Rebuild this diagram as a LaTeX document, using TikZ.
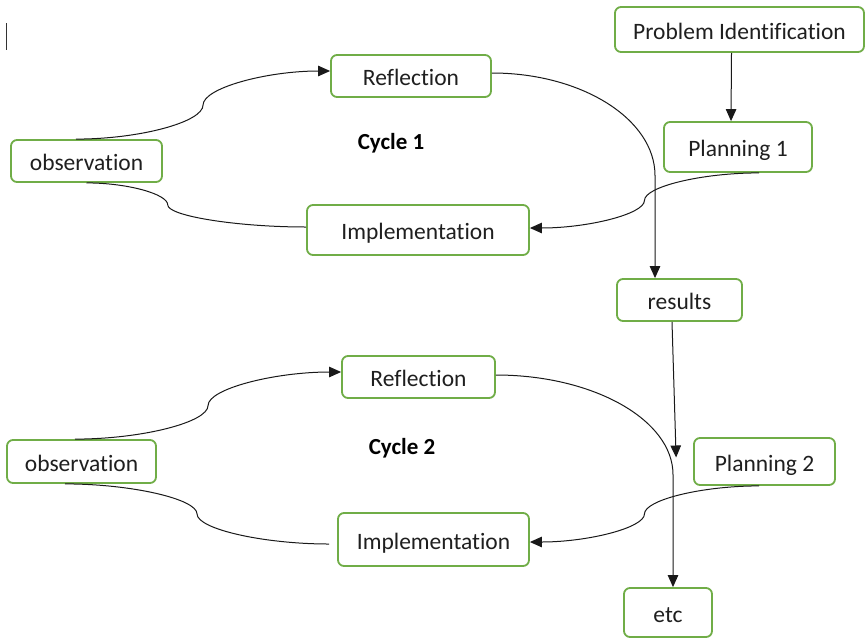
\documentclass[tikz,border=0pt]{standalone}
\usepackage{fontspec}
\setmainfont[Ligatures=NoCommon]{Carlito}
\usetikzlibrary{arrows.meta}
\usetikzlibrary{calc}
\definecolor{boxgreen}{HTML}{70AD47}

\begin{document}
\begin{tikzpicture}[x=1pt, y=-1pt,
stage/.style={draw=boxgreen, line width=1.8pt, rounded corners=6pt, fill=white,
text=black!88, font=\fontsize{23.5}{28}\selectfont, inner sep=2pt,
text height=19pt, text depth=0pt},
cycle/.style={text=black, font=\fontsize{23}{28}\selectfont\bfseries},
link/.style={line width=1pt, draw=black!90},
flow/.style={link, -{Triangle[length=12pt,width=10.5pt]}},
wordcurve/.style={to path={let \p1=(\tikztostart), \p2=(\tikztotarget) in
  .. controls ({(1-0.5*#1)*(\x1)+0.5*#1*(\x2)},\y1)
  and ({(1-#1)*(\x1)+#1*(\x2)},{0.75*(\y1)+0.25*(\y2)})
  .. ({(1-#1)*(\x1)+#1*(\x2)},{0.5*(\y1)+0.5*(\y2)})
  .. controls ({(1-#1)*(\x1)+#1*(\x2)},{0.25*(\y1)+0.75*(\y2)})
  and ({(0.5-0.5*#1)*(\x1)+(0.5+0.5*#1)*(\x2)},\y2)
  .. (\tikztotarget) \tikztonodes}},
wordcurve/.default=0.5,
wordbend/.style={to path={let \p1=(\tikztostart), \p2=(\tikztotarget) in
  .. controls ({0.45*(\x1)+0.55*(\x2)},\y1)
  and (\x2,{(1-0.45*#1)*(\y1)+0.45*#1*(\y2)})
  .. (\x2,{(1-#1)*(\y1)+#1*(\y2)}) -- (\tikztotarget) \tikztonodes}},
wordbend/.default=0.5]
    \useasboundingbox (0,0) rectangle (866,640);
    \draw[line width=0.8pt, black!80] (6,23) -- (6,50);

    \node[stage, minimum width=249pt, minimum height=45pt] (probid) at (739.5,29.5) {Problem Identification};
    \node[stage, minimum width=148pt, minimum height=50pt] (plan1) at (738,147) {Planning 1};
    \node[stage, minimum width=125pt, minimum height=42pt] (results) at (679.5,300) {results};
    \node[stage, minimum width=160pt, minimum height=42pt] (refl1) at (411,76) {Reflection};
    \node[stage, minimum width=151pt, minimum height=42pt] (obs1) at (86.5,161) {observation};
    \node[stage, minimum width=222pt, minimum height=50pt] (impl1) at (418,230) {Implementation};
    \node[cycle] (cyc1) at (391,143) {Cycle 1};

    \node[stage, minimum width=153pt, minimum height=42pt] (refl2) at (418.5,377) {Reflection};
    \node[stage, minimum width=149pt, minimum height=43pt] (obs2) at (81.5,461.5) {observation};
    \node[stage, minimum width=191pt, minimum height=53pt] (impl2) at (433.5,539.5) {Implementation};
    \node[stage, minimum width=141pt, minimum height=47pt] (plan2) at (764.5,461.5) {Planning 2};
    \node[stage, minimum width=88pt, minimum height=49pt] (etc) at (668,612.5) {etc};
    \node[cycle] (cyc2) at (402,448) {Cycle 2};
    \coordinate (nextcycle) at ([xshift=-17pt,yshift=4pt]plan2.west);

\draw[flow] ([xshift=-8pt]probid.south) -- ([xshift=-7pt]plan1.north);
\draw[flow] ([xshift=21pt]plan1.south) to[wordcurve] ([yshift=2pt]impl1.east);
\draw[link] (obs1.south) to[wordcurve=0.37] ([yshift=3pt]impl1.west);
\draw[flow] ([xshift=-10.5pt]obs1.north) to[wordcurve] ([yshift=5pt]refl1.west);
\draw[flow] ([yshift=3pt]refl1.east) to[wordbend] ([xshift=-24.5pt]results.north);
\draw[flow] ([xshift=-7.5pt]results.south) -- (nextcycle);
\draw[flow] ([xshift=-5.5pt]plan2.south) to[wordcurve] ([yshift=-2.5pt]impl2.east);
\draw[link] ([xshift=-16.5pt]obs2.south) to[wordcurve] ([xshift=-8pt,yshift=-4.5pt]impl2.west);
\draw[flow] ([xshift=-6.5pt]obs2.north) to[wordcurve] ([yshift=5pt]refl2.west);
\draw[flow] ([yshift=2pt]refl2.east) to[wordbend=0.47] ([xshift=5pt]etc.north);
\end{tikzpicture}
\end{document}
